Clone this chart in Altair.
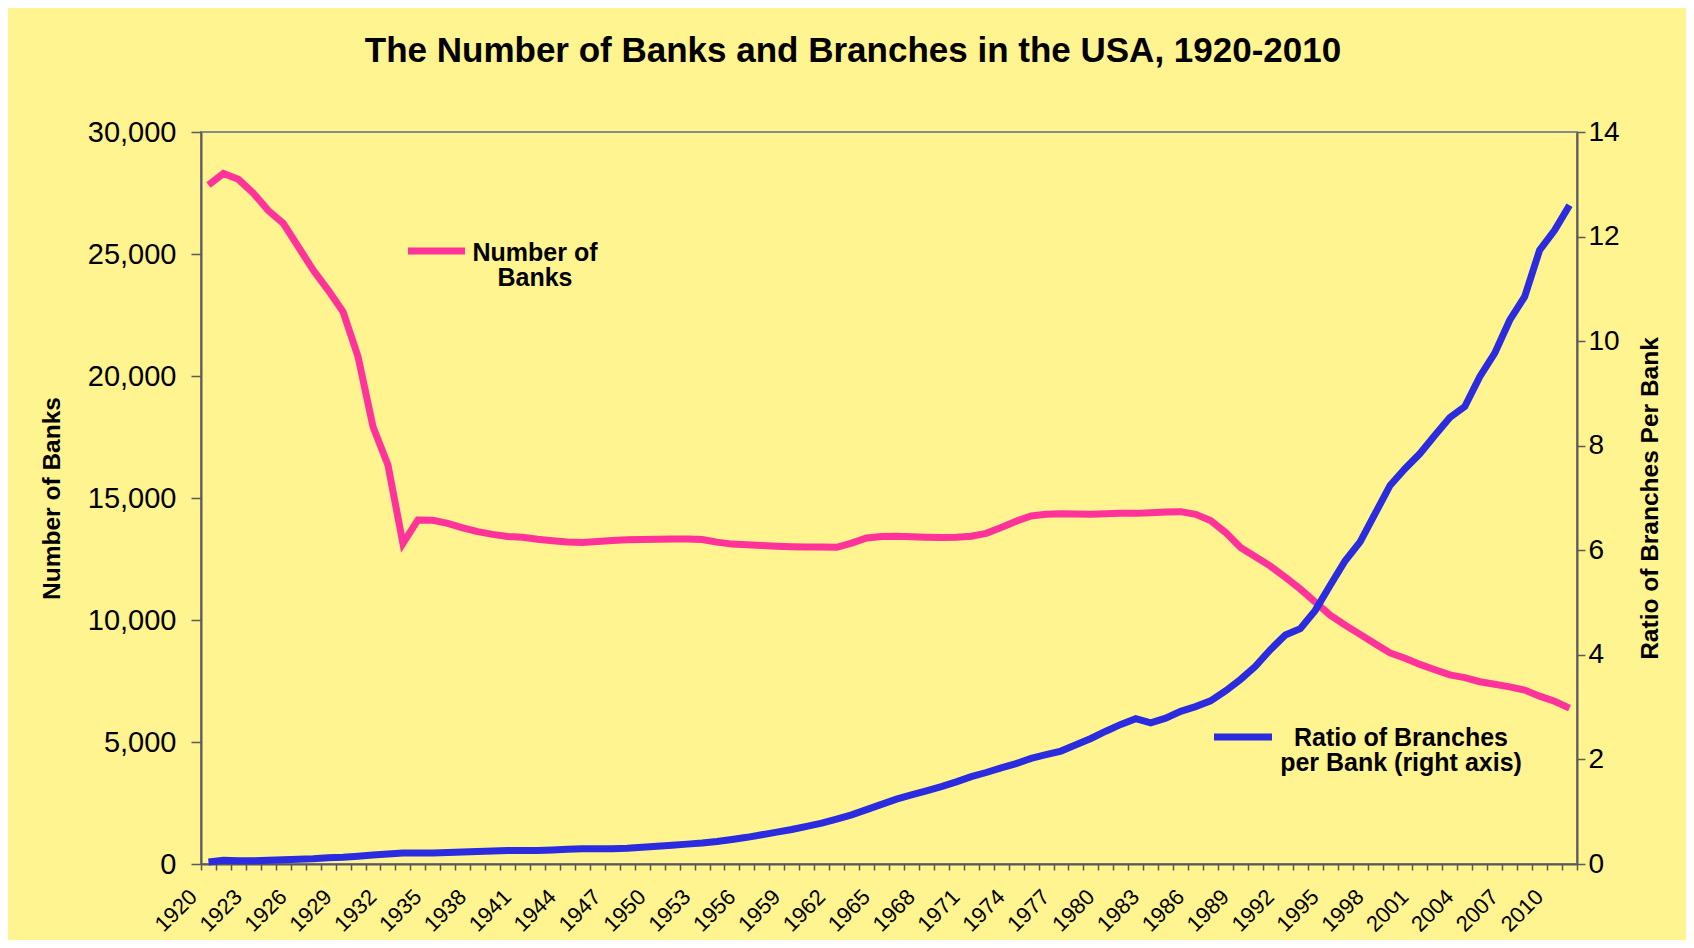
import altair as alt
import pandas as pd

# ---------------- data ----------------
years = list(range(1920, 2012))

banks = [
    27830, 28300, 28060, 27490, 26780, 26260, 25300, 24340, 23520, 22630,  # 1920-1929
    20790, 17920, 16350, 13140, 14100, 14090, 13960, 13780, 13620, 13510,  # 1930-1939
    13420, 13390, 13310, 13250, 13200, 13180, 13220, 13260, 13290, 13300,  # 1940-1949
    13310, 13320, 13320, 13300, 13190, 13110, 13080, 13050, 13020, 13000,  # 1950-1959
    12990, 12990, 12980, 13150, 13360, 13420, 13430, 13410, 13390, 13380,  # 1960-1969
    13390, 13430, 13550, 13790, 14050, 14260, 14330, 14350, 14340, 14330,  # 1970-1979
    14350, 14370, 14370, 14400, 14430, 14440, 14330, 14080, 13590, 12970,  # 1980-1989
    12590, 12210, 11750, 11270, 10730, 10200, 9790, 9410, 9030, 8650,      # 1990-1999
    8430, 8180, 7960, 7750, 7640, 7470, 7370, 7260, 7130, 6880,            # 2000-2009
    6670, 6390,                                                            # 2010-2011
]

ratio = [
    0.04, 0.07, 0.06, 0.06, 0.07, 0.08, 0.09, 0.10, 0.12, 0.13,  # 1920-1929
    0.15, 0.17, 0.19, 0.21, 0.21, 0.21, 0.22, 0.23, 0.24, 0.25,  # 1930-1939
    0.26, 0.26, 0.26, 0.27, 0.28, 0.29, 0.29, 0.29, 0.30, 0.32,  # 1940-1949
    0.34, 0.36, 0.38, 0.40, 0.43, 0.47, 0.51, 0.56, 0.61, 0.66,  # 1950-1959
    0.72, 0.78, 0.86, 0.94, 1.04, 1.14, 1.24, 1.32, 1.40, 1.48,  # 1960-1969
    1.57, 1.67, 1.75, 1.84, 1.92, 2.02, 2.09, 2.16, 2.28, 2.40,  # 1970-1979
    2.54, 2.67, 2.78, 2.70, 2.79, 2.92, 3.01, 3.12, 3.31, 3.53,  # 1980-1989
    3.78, 4.10, 4.38, 4.50, 4.85, 5.33, 5.80, 6.16, 6.70, 7.24,  # 1990-1999
    7.56, 7.85, 8.20, 8.54, 8.75, 9.32, 9.77, 10.40, 10.85, 11.74,  # 2000-2009
    12.12, 12.60,                                                # 2010-2011
]

left_ticks = [0, 5000, 10000, 15000, 20000, 25000, 30000]
right_ticks = [0, 2, 4, 6, 8, 10, 12, 14]

title_text = "The Number of Banks and Branches in the USA, 1920-2010"
left_title = "Number of Banks"
right_title = "Ratio of Branches Per Bank"
legend_banks = "Number of\nBanks"
legend_ratio = "Ratio of Branches\nper Bank (right axis)"

# ---------------- styling ----------------
PINK = "#FF3399"
BLUE = "#2B2BE0"
BG = "#FFF48F"
AXIS = "#5a5a5a"
FONT = "Liberation Sans, Arial, Helvetica, sans-serif"
NARROW = "Liberation Sans Narrow, Arial Narrow, Liberation Sans, sans-serif"

W, H = 1376, 732

df = pd.DataFrame({"year": years, "banks": banks, "ratio": ratio})

# category boundaries for the tick marks (Excel-style ticks between categories)
boundaries = [y - 0.5 for y in years] + [years[-1] + 0.5]

x_axis = alt.Axis(
    values=boundaries,
    labelExpr="((datum.value + 0.5 - 1920) % 3 == 0 && datum.value < 2011) ? '' + (datum.value + 0.5) : ''",
    labelAngle=-45,
    labelAlign="right",
    labelBaseline="middle",
    labelOffset=-8,
    labelPadding=23,
    labelFontSize=22,
    labelFont=FONT,
    labelColor="black",
    labelOverlap=False,
    labelFlush=False,
    labelBound=False,
    tickSize=6,
    tickColor=AXIS,
    tickWidth=1.5,
    domainColor=AXIS,
    domainWidth=2,
    grid=False,
    title=None,
)
x_enc = alt.X(
    "year:Q",
    scale=alt.Scale(domain=[years[0] - 0.5, years[-1] + 0.5], nice=False, zero=False),
    axis=x_axis,
)

pink_line = alt.Chart(df).mark_line(color=PINK, strokeWidth=7, strokeJoin="miter").encode(
    x=x_enc,
    y=alt.Y(
        "banks:Q",
        scale=alt.Scale(domain=[0, 30000], nice=False),
        axis=alt.Axis(
            orient="left",
            values=left_ticks,
            format=",d",
            grid=False,
            labelFontSize=29,
            labelFont=FONT,
            labelColor="black",
            labelPadding=15,
            labelBaseline="middle",
            tickSize=10,
            tickColor=AXIS,
            tickWidth=1.5,
            domainColor=AXIS,
            domainWidth=2,
            title=left_title,
            titleFont=NARROW,
            titleFontSize=24.5,
            titleFontWeight="bold",
            titleColor="black",
            titleAngle=-90,
            titleAlign="center",
            titleBaseline="middle",
            titleX=-149,
            titleY=H / 2,
        ),
    ),
)

blue_line = alt.Chart(df).mark_line(color=BLUE, strokeWidth=7, strokeJoin="miter").encode(
    x=x_enc,
    y=alt.Y(
        "ratio:Q",
        scale=alt.Scale(domain=[0, 14], nice=False),
        axis=alt.Axis(
            orient="right",
            values=right_ticks,
            format="d",
            grid=False,
            labelFontSize=28,
            labelFont=FONT,
            labelColor="black",
            labelPadding=3,
            labelBaseline="middle",
            tickSize=8,
            tickColor=AXIS,
            tickWidth=1.5,
            domainColor=AXIS,
            domainWidth=2,
            title=right_title,
            titleFont=NARROW,
            titleFontSize=24.5,
            titleFontWeight="bold",
            titleColor="black",
            titleAngle=-90,
            titleAlign="center",
            titleBaseline="middle",
            titleX=73,
            titleY=H / 2,
        ),
    ),
)

# ---------------- in-plot legend entries ----------------
leg_df = pd.DataFrame({"banks_label": [legend_banks], "ratio_label": [legend_ratio]})

leg_pink_rule = alt.Chart(leg_df).mark_rule(color=PINK, strokeWidth=7).encode(
    x=alt.value(207), x2=alt.value(264), y=alt.value(119)
)
leg_pink_text = alt.Chart(leg_df).mark_text(
    font=FONT, fontSize=25, fontWeight="bold", color="black",
    align="center", baseline="middle", lineBreak="\n", lineHeight=25,
).encode(text="banks_label:N", x=alt.value(334), y=alt.value(121))

leg_blue_rule = alt.Chart(leg_df).mark_rule(color=BLUE, strokeWidth=7).encode(
    x=alt.value(1013), x2=alt.value(1071), y=alt.value(605)
)
leg_blue_text = alt.Chart(leg_df).mark_text(
    font=FONT, fontSize=25, fontWeight="bold", color="black",
    align="center", baseline="middle", lineBreak="\n", lineHeight=25,
).encode(text="ratio_label:N", x=alt.value(1200), y=alt.value(606))

chart = (
    alt.layer(pink_line, blue_line, leg_pink_rule, leg_pink_text, leg_blue_rule, leg_blue_text)
    .resolve_scale(y="independent")
    .properties(
        width=W,
        height=H,
        autosize=alt.AutoSizeParams(type="none"),
        padding={"left": 193, "top": 124, "right": 109, "bottom": 76},
        background=BG,
        title=alt.TitleParams(
            title_text,
            font=FONT,
            fontSize=35,
            fontWeight="bold",
            color="black",
            anchor="middle",
            dx=-36,
            baseline="alphabetic",
            offset=21,
        ),
    )
    .configure_view(stroke="#8a8a8a", strokeWidth=2)
)

chart.save("out.html", embed_options={"renderer": "svg", "actions": False})
